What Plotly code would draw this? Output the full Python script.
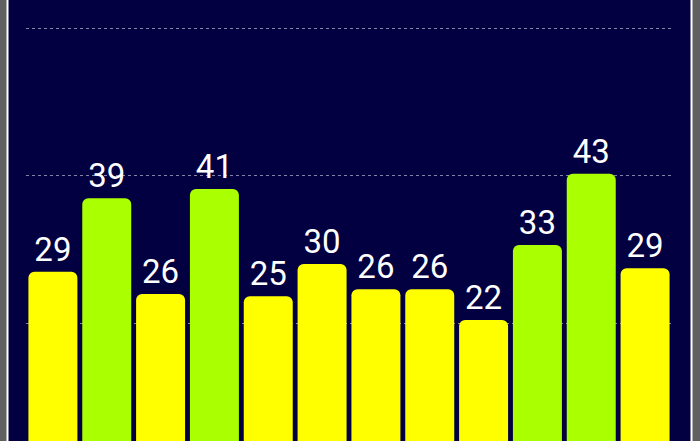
import plotly.graph_objects as go

# data
categories = ['Jan', 'Feb', 'Mar', 'Apr', 'May', 'Jun',
              'Jul', 'Aug', 'Sep', 'Oct', 'Nov', 'Dec']
values = [28.9, 39.4, 25.7, 40.7, 25.4, 30.0, 26.4, 26.4, 22.0, 32.7, 42.9, 29.4]
grid_values = [21.43, 42.57, 63.71]

NAVY = '#020041'
YELLOW = '#ffff00'
GREEN = '#aaff00'

colors = [GREEN if v > 31 else YELLOW for v in values]

fig = go.Figure()
fig.add_trace(go.Bar(
    x=categories,
    y=values,
    marker=dict(color=colors, line=dict(width=0)),
    texttemplate='%{y:.0f}',
    textposition='outside',
    textfont=dict(family='Roboto', size=33, color='white'),
    cliponaxis=False,
    hoverinfo='skip',
))

# phone-like frame: grey edge, thin white line, navy screen
fig.add_shape(
    type='rect', xref='paper', yref='paper',
    x0=(7.5 - 26) / 646, x1=(691.5 - 26) / 646, y0=-0.2, y1=1.2,
    fillcolor=NAVY, line=dict(color='white', width=2), layer='below',
)

fig.update_layout(
    width=700,
    height=441,
    margin=dict(l=26, r=28, t=0, b=0),
    paper_bgcolor='#606060',
    plot_bgcolor=NAVY,
    bargap=0.09,
    barcornerradius=6,
    showlegend=False,
    xaxis=dict(showticklabels=False, showgrid=False, zeroline=False,
               showline=False, ticks=''),
    yaxis=dict(range=[4.71, 67.71], tickvals=grid_values, showticklabels=False,
               showgrid=True, gridcolor='#8484a8', gridwidth=1, griddash='dot',
               zeroline=False, showline=False, ticks=''),
)

fig.write_html('out.html', config={'displayModeBar': False},
               post_script="document.body.style.margin='0';document.body.style.overflow='hidden';")
